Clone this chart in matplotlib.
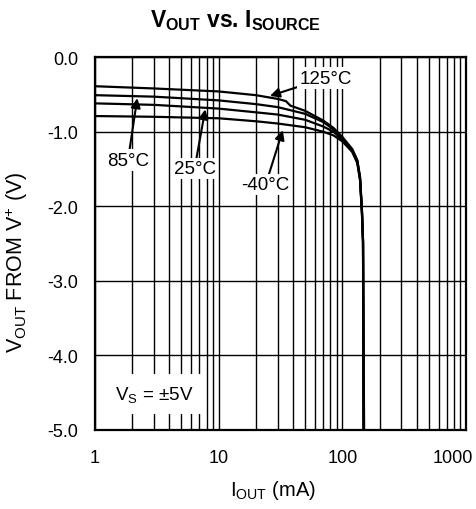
import numpy as np
import matplotlib
matplotlib.use("Agg")
import matplotlib.pyplot as plt
from matplotlib.transforms import ScaledTranslation

plt.rcParams['font.family'] = ['Liberation Sans', 'DejaVu Sans']
plt.rcParams['mathtext.fontset'] = 'custom'
plt.rcParams['mathtext.rm'] = 'Liberation Sans'
plt.rcParams['mathtext.it'] = 'Liberation Sans'
plt.rcParams['mathtext.bf'] = 'Liberation Sans:bold'

# data (I in mA, V from V+ in volts)
i_125 = [1, 3, 10, 20, 30, 35, 38, 50, 70, 85, 100, 120, 132, 139, 144, 147, 148]
v_125 = [-0.39, -0.42, -0.46, -0.51, -0.56, -0.59, -0.65, -0.72, -0.85, -0.95,
         -1.07, -1.23, -1.38, -1.60, -2.04, -2.45, -5.0]

i_rest = [1, 3, 10, 20, 30, 50, 70, 85, 100, 120, 132, 139, 144, 147, 149]
v_85 = [-0.51, -0.53, -0.58, -0.63, -0.67, -0.76, -0.87, -0.97, -1.09, -1.24,
        -1.39, -1.62, -2.06, -2.47, -5.0]
v_25 = [-0.62, -0.64, -0.69, -0.74, -0.77, -0.84, -0.93, -1.00, -1.11, -1.25,
        -1.40, -1.63, -2.07, -2.48, -5.0]
i_m40 = [1, 3, 10, 20, 30, 50, 70, 85, 100, 120, 132, 139, 144, 147, 150]
v_m40 = [-0.79, -0.80, -0.82, -0.86, -0.89, -0.94, -1.00, -1.05, -1.13, -1.27,
         -1.42, -1.65, -2.09, -2.50, -5.0]

x_ticks = [1, 10, 100, 1000]
y_ticks = [0.0, -1.0, -2.0, -3.0, -4.0, -5.0]

fig = plt.figure(figsize=(4.77, 5.10), dpi=100)
ax = fig.add_axes([0.199, 0.155, 0.778, 0.731])

for xs, ys in [(i_125, v_125), (i_rest, v_85), (i_rest, v_25), (i_m40, v_m40)]:
    ax.plot(xs, ys, color='k', lw=1.6, zorder=3)

ax.set_xscale('log')
ax.set_xlim(1, 1000)
ax.set_ylim(-5.0, 0.0)
ax.set_xticks(x_ticks)
ax.set_xticklabels([str(t) for t in x_ticks])
ax.set_yticks(y_ticks)
ax.set_yticklabels(['%.1f' % t for t in y_ticks])
ax.tick_params(which='both', length=0, labelsize=13)
ax.tick_params(axis='x', pad=14)
ax.tick_params(axis='y', pad=12)
ax.grid(True, which='major', color='k', lw=1.0)
ax.grid(True, which='minor', axis='x', color='k', lw=1.0)
for s in ax.spines.values():
    s.set_linewidth(1.6)

# last x label sits a little left of the axis end, like the reference
last = ax.get_xticklabels()[-1]
last.set_ha('right')
last.set_transform(last.get_transform() + ScaledTranslation(7 / 100, 0, fig.dpi_scale_trans))

fig.text(0.493, 0.96, r'$\mathbf{V_{OUT}}$' + ' vs. ' + r'$\mathbf{I_{SOURCE}}$',
         fontsize=16.5, fontweight='bold', ha='center', va='center')
ax.set_xlabel(r'$\mathregular{I_{OUT}}$ (mA)', fontsize=14.5)
ax.xaxis.set_label_coords(0.48, -0.13)
ax.set_ylabel(r'$\mathregular{V_{OUT}}$ FROM $\mathregular{V^{+}}$ (V)', fontsize=15.5)
ax.yaxis.set_label_coords(-0.176, 0.453)

box = dict(facecolor='white', edgecolor='none', pad=1.5)
arrow = dict(arrowstyle='-|>', color='k', lw=1.5, mutation_scale=14, shrinkA=0, shrinkB=0)
ax.annotate('125°C', xy=(26, -0.52), xytext=(73, -0.28), fontsize=13.5,
            ha='center', va='center', bbox=box, arrowprops=arrow, zorder=5)
ax.annotate('85°C', xy=(2.2, -0.55), xytext=(1.85, -1.38), fontsize=13.5,
            ha='center', va='center', bbox=box, arrowprops=arrow, zorder=5)
ax.annotate('25°C', xy=(7.8, -0.70), xytext=(6.4, -1.49), fontsize=13.5,
            ha='center', va='center', bbox=box, arrowprops=arrow, zorder=5)
ax.annotate('-40°C', xy=(33, -0.98), xytext=(24, -1.71), fontsize=13.5,
            ha='center', va='center', bbox=box, arrowprops=arrow, zorder=5)
ax.text(3.0, -4.52, r'$\mathregular{V_S}$ = ±5V', fontsize=13.5,
        ha='center', va='center', bbox=dict(facecolor='white', edgecolor='none', pad=7), zorder=5)

fig.savefig('out.png', dpi=100)
